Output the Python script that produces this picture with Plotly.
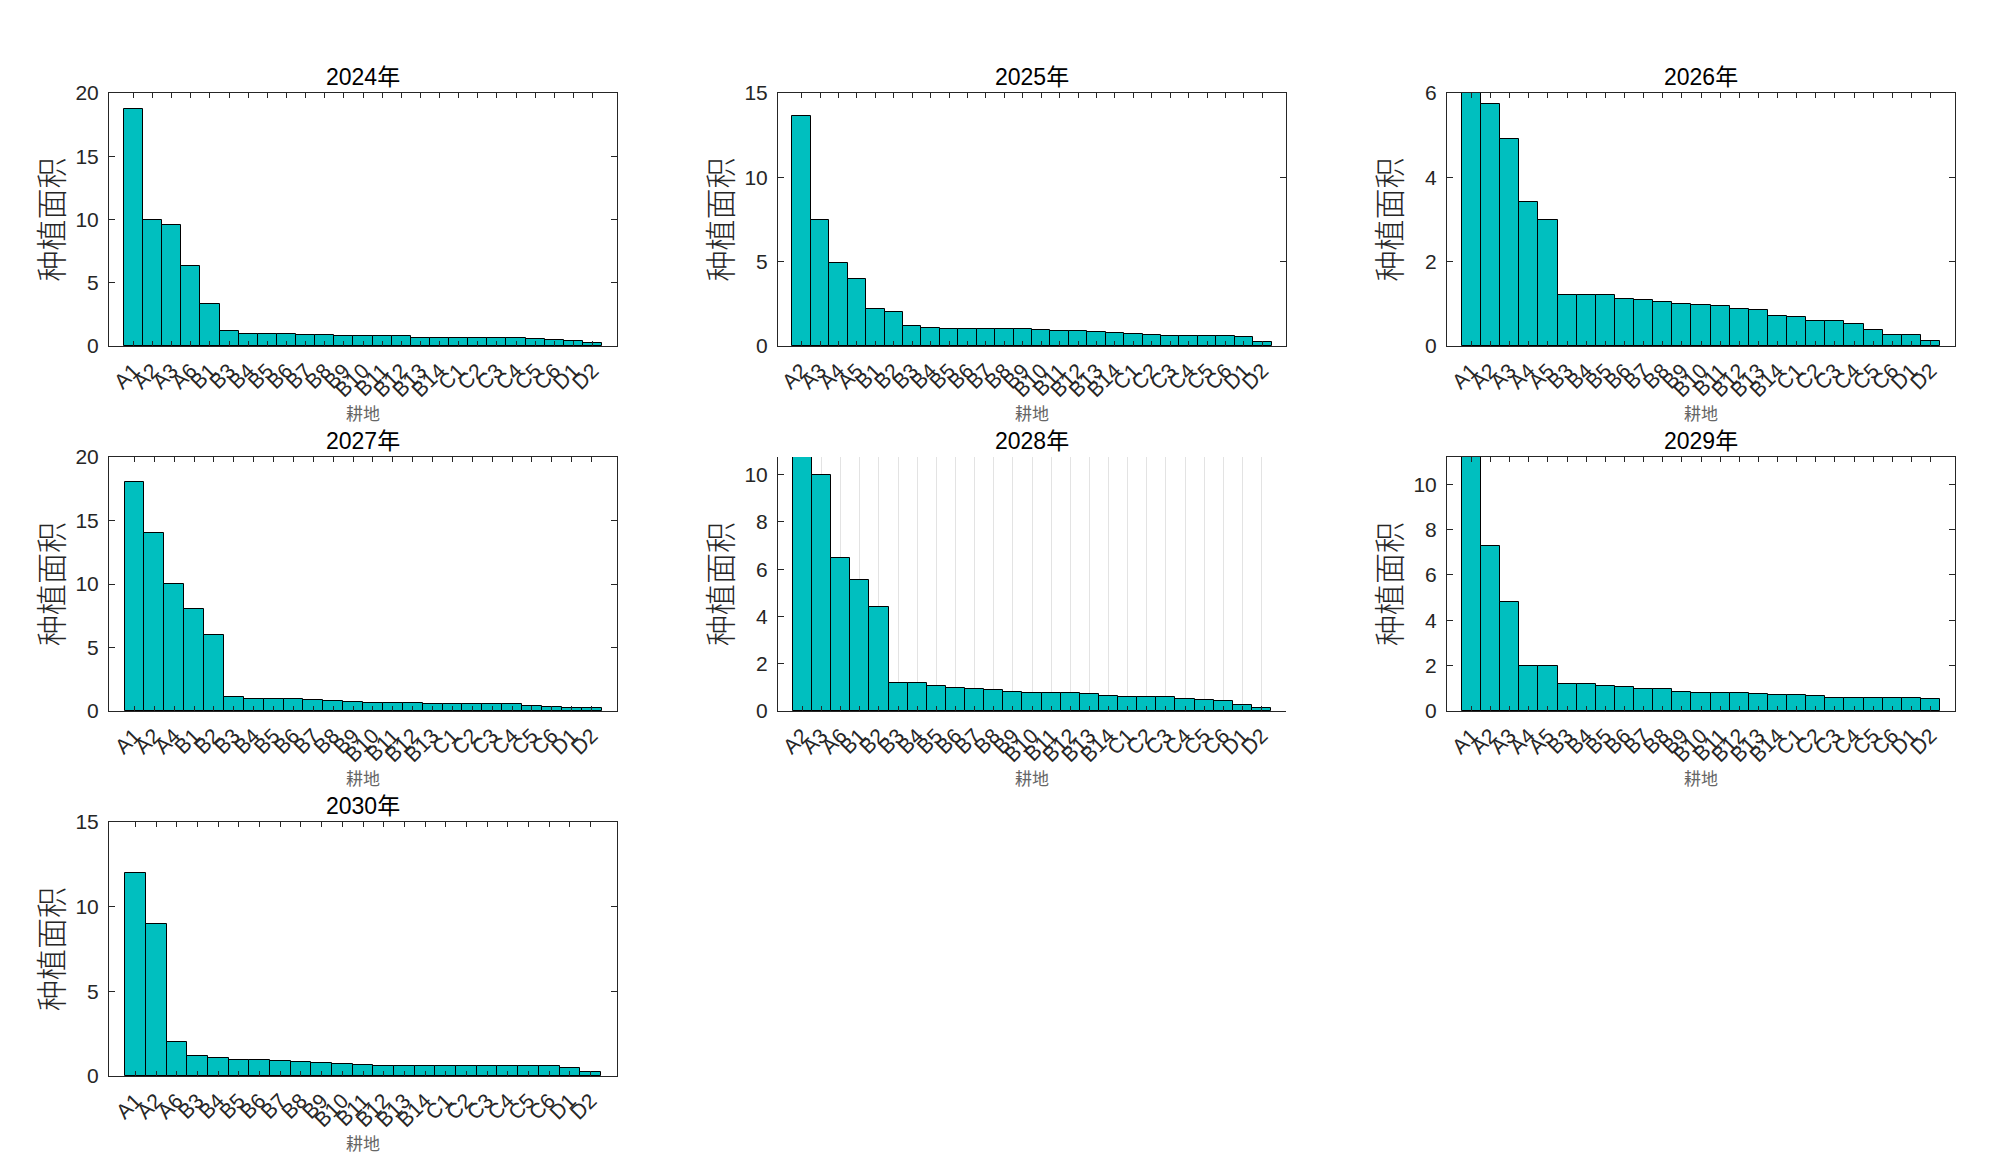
import plotly.graph_objects as go

years = ["2024年", "2025年", "2026年", "2027年", "2028年", "2029年", "2030年"]

cats_2024 = ["A1", "A2", "A3", "A6", "B1", "B3", "B4", "B5", "B6", "B7", "B8", "B9", "B10", "B11", "B12", "B13", "B14", "C1", "C2", "C3", "C4", "C5", "C6", "D1", "D2"]
vals_2024 = [18.7, 10.0, 9.6, 6.3, 3.36, 1.2, 0.95, 0.93, 0.93, 0.9, 0.9, 0.82, 0.8, 0.8, 0.76, 0.6, 0.6, 0.6, 0.6, 0.6, 0.6, 0.58, 0.48, 0.37, 0.24]

cats_2025 = ["A2", "A3", "A4", "A5", "B1", "B2", "B3", "B4", "B5", "B6", "B7", "B8", "B9", "B10", "B11", "B12", "B13", "B14", "C1", "C2", "C3", "C4", "C5", "C6", "D1", "D2"]
vals_2025 = [13.65, 7.47, 4.93, 4.0, 2.18, 2.0, 1.21, 1.07, 1.02, 1.0, 1.0, 0.99, 0.98, 0.95, 0.87, 0.87, 0.81, 0.77, 0.71, 0.63, 0.6, 0.6, 0.6, 0.6, 0.52, 0.24]

cats_2026 = ["A1", "A2", "A3", "A4", "A5", "B3", "B4", "B5", "B6", "B7", "B8", "B9", "B10", "B11", "B12", "B13", "B14", "C1", "C2", "C3", "C4", "C5", "C6", "D1", "D2"]
vals_2026 = [6.0, 5.75, 4.9, 3.42, 3.0, 1.2, 1.2, 1.2, 1.12, 1.08, 1.05, 1.0, 0.97, 0.96, 0.87, 0.86, 0.72, 0.69, 0.6, 0.6, 0.52, 0.38, 0.26, 0.25, 0.12]

cats_2027 = ["A1", "A2", "A4", "B1", "B2", "B3", "B4", "B5", "B6", "B7", "B8", "B9", "B10", "B11", "B12", "B13", "C1", "C2", "C3", "C4", "C5", "C6", "D1", "D2"]
vals_2027 = [18.0, 14.0, 10.0, 8.0, 6.0, 1.1, 0.98, 0.95, 0.93, 0.87, 0.8, 0.69, 0.63, 0.63, 0.61, 0.57, 0.57, 0.57, 0.57, 0.57, 0.37, 0.32, 0.27, 0.27]

cats_2028 = ["A2", "A3", "A6", "B1", "B2", "B3", "B4", "B5", "B6", "B7", "B8", "B9", "B10", "B11", "B12", "B13", "B14", "C1", "C2", "C3", "C4", "C5", "C6", "D1", "D2"]
vals_2028 = [10.75, 10.0, 6.48, 5.55, 4.39, 1.19, 1.19, 1.07, 0.99, 0.95, 0.9, 0.82, 0.78, 0.78, 0.78, 0.71, 0.65, 0.6, 0.6, 0.6, 0.51, 0.47, 0.41, 0.26, 0.13]

cats_2029 = ["A1", "A2", "A3", "A4", "A5", "B3", "B4", "B5", "B6", "B7", "B8", "B9", "B10", "B11", "B12", "B13", "B14", "C1", "C2", "C3", "C4", "C5", "C6", "D1", "D2"]
vals_2029 = [11.2, 7.28, 4.82, 2.0, 2.0, 1.2, 1.2, 1.12, 1.04, 0.99, 0.98, 0.86, 0.81, 0.81, 0.78, 0.75, 0.72, 0.71, 0.67, 0.59, 0.59, 0.59, 0.59, 0.58, 0.52]

cats_2030 = ["A1", "A2", "A6", "B3", "B4", "B5", "B6", "B7", "B8", "B9", "B10", "B11", "B12", "B13", "B14", "C1", "C2", "C3", "C4", "C5", "C6", "D1", "D2"]
vals_2030 = [12.0, 9.0, 2.0, 1.17, 1.07, 0.95, 0.95, 0.87, 0.83, 0.77, 0.73, 0.63, 0.6, 0.6, 0.6, 0.6, 0.6, 0.6, 0.6, 0.6, 0.6, 0.48, 0.22]

y_max = [20, 15, 6, 20, 10.75, 11.2, 15]
y_dtick = [5, 5, 2, 5, 2, 2, 5]

all_cats = [cats_2024, cats_2025, cats_2026, cats_2027, cats_2028, cats_2029, cats_2030]
all_vals = [vals_2024, vals_2025, vals_2026, vals_2027, vals_2028, vals_2029, vals_2030]

y_label = "种植面积"
x_label = "耕地"

# page layout in screen pixels (the page body has an 8px margin)
W, H, OFF = 1984, 1150, 8
col_px = [(109, 617), (778, 1286), (1447, 1955)]
row_px = [(93, 346), (457, 711), (822, 1076)]
col_dom = [((a - OFF) / W, (b - OFF) / W) for a, b in col_px]
row_dom = [(1 - (b - OFF) / H, 1 - (a - OFF) / H) for a, b in row_px]

FONT = "Liberation Sans, Arial, Noto Sans CJK SC, sans-serif"
CJK = "Noto Sans CJK SC, sans-serif"
AX = "#262626"

fig = go.Figure()
annotations = []
layout = {}

for i, (yr, cats, vals) in enumerate(zip(years, all_cats, all_vals)):
    r, c = divmod(i, 3)
    n = i + 1
    xa = "x" if n == 1 else f"x{n}"
    ya = "y" if n == 1 else f"y{n}"
    fig.add_trace(go.Bar(
        x=cats, y=vals, xaxis=xa, yaxis=ya,
        marker=dict(color="rgb(0,191,191)", line=dict(color="#000000", width=1)),
        showlegend=False,
    ))
    is_open = (yr == "2028年")
    pad = 0.78
    xdom = col_dom[c]
    ydom = row_dom[r]
    layout["xaxis" if n == 1 else f"xaxis{n}"] = dict(
        domain=list(xdom), anchor=ya, type="category",
        range=[-0.5 - pad, len(cats) - 0.5 + pad],
        tickmode="array", tickvals=cats, ticktext=cats,
        showline=True, linecolor=AX, linewidth=1,
        mirror=False if is_open else "ticks",
        ticks="inside", ticklen=5, tickcolor=AX, tickwidth=1,
        tickangle=-45, tickfont=dict(family=FONT, size=21, color=AX),
        ticklabelstandoff=3,
        showgrid=is_open, gridcolor="#e3e3e3", gridwidth=1,
        zeroline=False, fixedrange=True, automargin=False,
    )
    layout["yaxis" if n == 1 else f"yaxis{n}"] = dict(
        domain=list(ydom), anchor=xa,
        range=[0, y_max[i]], dtick=y_dtick[i], tick0=0,
        showline=True, linecolor=AX, linewidth=1,
        mirror=False if is_open else "ticks",
        ticks="inside", ticklen=6, tickcolor=AX, tickwidth=1,
        tickfont=dict(family=FONT, size=21, color=AX),
        ticklabelstandoff=5,
        showgrid=False, zeroline=False, fixedrange=True, automargin=False,
    )
    xc = (xdom[0] + xdom[1]) / 2
    annotations.append(dict(
        text=yr, x=xc, y=ydom[1], xref="paper", yref="paper",
        xanchor="center", yanchor="bottom", yshift=1, showarrow=False,
        font=dict(family=FONT, size=23, color="#000000"),
    ))
    annotations.append(dict(
        text=y_label, x=xdom[0], y=(ydom[0] + ydom[1]) / 2, xref="paper", yref="paper",
        xanchor="center", yanchor="middle", xshift=-60, textangle=-90, showarrow=False,
        font=dict(family=CJK, size=31, color=AX, weight=300),
    ))
    annotations.append(dict(
        text=x_label, x=xc, y=ydom[0], xref="paper", yref="paper",
        xanchor="center", yanchor="middle", yshift=-66, showarrow=False,
        font=dict(family=CJK, size=17, color="#666666"),
    ))

fig.update_layout(
    width=W, height=H,
    margin=dict(l=0, r=0, t=0, b=0),
    paper_bgcolor="white", plot_bgcolor="white",
    bargap=0, annotations=annotations,
    **layout,
)

fig.write_html("out.html")
